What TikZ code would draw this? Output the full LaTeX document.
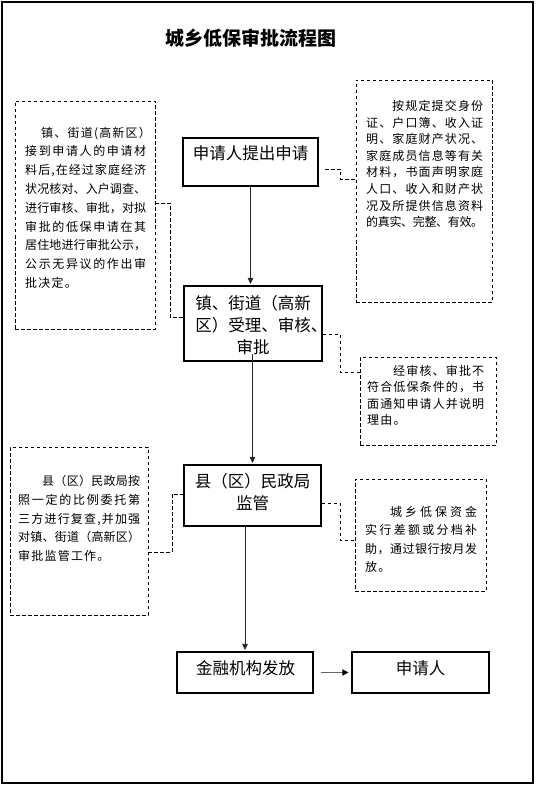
\documentclass[tikz,border=0pt]{standalone}
\usepackage{fontspec}
\setmainfont{Noto Sans CJK SC}
\usetikzlibrary{arrows.meta}
\newdimen\jw
\ExplSyntaxOn
\NewDocumentCommand \dblock { m m }
  { \vtop { \jw = #1 \relax #2 } }
\NewDocumentCommand \jl { O{0pt} m }
  {
    \hbox_to_wd:nn { \jw }
      {
        \skip_horizontal:n {#1}
        \tl_map_inline:nn {#2} { ##1 \skip_horizontal:n { 0pt ~ plus ~ 1fil ~ minus ~ 0.6pt } }
        \unskip
      }
  }
\NewDocumentCommand \jn { O{0pt} m }
  {
    \hbox:n
      {
        \skip_horizontal:n {#1}
        \tl_map_inline:nn {#2} { ##1 \kern 1.2pt }
        \unkern
      }
  }
\ExplSyntaxOff
\begin{document}
\begin{tikzpicture}[x=1pt,y=-1pt,
  mainbox/.style={draw=black, line width=1.1pt, inner sep=0pt},
  dbox/.style={draw=black, line width=0.8pt, dash pattern=on 3.5pt off 2.5pt, inner sep=0pt},
  mtext/.style={anchor=base, inner sep=0pt, align=center, text width=150pt, font=\fontsize{16.5}{22}\selectfont},
  dtext/.style={anchor=base west, inner sep=0pt, font=\fontsize{12}{#1}\selectfont},
  arr/.style={draw=black!85, line width=0.9pt, -{Triangle[length=6pt,width=5.5pt]}, shorten >=1.5pt},
  garr/.style={draw=black!60, line width=1.4pt, -{Triangle[length=6pt,width=6pt,color=black]}},
  dcon/.style={draw=black, line width=0.8pt, dash pattern=on 3.5pt off 2.5pt}]
\useasboundingbox (0,0) rectangle (535,786);
\draw[line width=1.2pt] (2,2) rectangle (533,783);

\node[anchor=base, inner sep=0pt, font=\fontsize{19}{19}\selectfont\bfseries] (title) at (251,45.2) {城乡低保审批流程图};

% main boxes
\node[mainbox, minimum width=135pt, minimum height=48pt] (box1) at (250.5,162) {};
\node[mainbox, minimum width=138pt, minimum height=75pt] (box2) at (253,323.5) {};
\node[mainbox, minimum width=137pt, minimum height=61pt] (box3) at (252.5,495.5) {};
\node[mainbox, minimum width=136pt, minimum height=41pt] (box4) at (245,672.5) {};
\node[mainbox, minimum width=137pt, minimum height=41pt] (box5) at (420.5,672.5) {};

\node[mtext] (t1) at (250.5,159.3) {申请人提出申请};
\node[mtext] (t2) at (253,309.3) {镇、街道（高新\\区）受理、审核\rlap{、}\\审批};
\node[mtext] (t3) at (252.5,487.3) {县（区）民政局\\监管};
\node[mtext] (t4) at (245.5,674.3) {金融机构发放};
\node[mtext] (t5) at (420.5,674.3) {申请人};

% dashed boxes
\node[dbox, minimum width=136pt, minimum height=222pt] (nTR) at (424,191) {};
\node[dbox, minimum width=140pt, minimum height=228pt] (nL1) at (85,215) {};
\node[dbox, minimum width=136pt, minimum height=88pt] (nR2) at (428,401) {};
\node[dbox, minimum width=138pt, minimum height=168pt] (nL2) at (79,531) {};
\node[dbox, minimum width=131pt, minimum height=112pt] (nR3) at (420.5,535) {};

\node[dtext=18.8] (xL1) at (25,137.1) {\dblock{121pt}{
  \jn[16pt]{镇、街道(高新区）}
  \jl{接到申请人的申请材}
  \jl{料后,在经过家庭经济}
  \jl{状况核对、入户调查、}
  \jl{进行审核、审批，对拟}
  \jl{审批的低保申请在其}
  \jl{居住地进行审批公示，}
  \jl{公示无异议的作出审}
  \jn{批决定。}}};

\node[dtext=16.6] (xTR) at (366,110.6) {\dblock{117pt}{
  \jl[26pt]{按规定提交身份}
  \jl{证、户口簿、收入证}
  \jl{明、家庭财产状况、}
  \jl{家庭成员信息等有关}
  \jl{材料，书面声明家庭}
  \jl{人口、收入和财产状}
  \jl{况及所提供信息资料}
  \jl{的真实、完整、有效。}}};

\node[dtext=16.3] (xR2) at (367,375.6) {\dblock{117pt}{
  \jl[26pt]{经审核、审批不}
  \jl{符合低保条件的，书}
  \jl{面通知申请人并说明}
  \jn{理由。}}};

\node[dtext=18.7] (xL2) at (18,485.6) {\dblock{122pt}{
  \jl[24pt]{县（区）民政局按}
  \jl{照一定的比例委托第}
  \jl{三方进行复查,并加强}
  \jl{对镇、街道（高新区）}
  \jn{审批监管工作。}}};

\node[dtext=18.3] (xR3) at (365,516.6) {\dblock{112pt}{
  \jl[25pt]{城乡低保资金}
  \jl{实行差额或分档补}
  \jl{助，通过银行按月发}
  \jn{放。}}};

% arrows
\coordinate (a2s) at (252.5,354);
\draw[arr] (box1.south) -- (box1.south |- box2.north);
\draw[arr] (a2s) -- (a2s |- box3.north);
\draw[arr] (box4.north |- box3.south) -- (box4.north);
\draw[garr, shorten <=7pt, shorten >=3pt] (box4) -- (box5);

% dashed connectors
\coordinate (c1a) at (325,169);
\draw[dcon] (c1a) -- (340,169) -- (340,179) -- (nTR.west |- 0,179);
\draw[dcon] (nL1.east |- 0,203) -- (170,203) -- (170,317) -- (box2.west |- 0,317);
\draw[dcon] (box2.east |- 0,334) -- (340,334) -- (340,372) -- (nR2.west |- 0,372);
\draw[dcon] (nL2.east |- 0,552) -- (172,552) -- (172,494) -- (box3.west |- 0,494);
\draw[dcon] (box3.east |- 0,503) -- (340,503) -- (340,540) -- (nR3.west |- 0,540);
\end{tikzpicture}
\end{document}
